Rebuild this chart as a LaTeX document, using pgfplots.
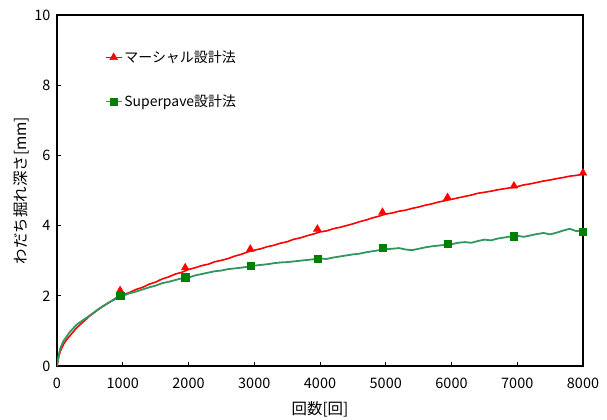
\documentclass[border=0pt]{standalone}
\usepackage{pgfplots}
\pgfplotsset{compat=1.18}
\usepackage{fontspec}
\setmainfont{Noto Sans CJK JP}
\definecolor{lgreen}{RGB}{50,150,95}
\definecolor{mgreen}{RGB}{0,128,0}
\begin{document}
\begin{tikzpicture}[font=\fontsize{14.5}{16}\selectfont]
\begin{axis}[
  scale only axis, width=526bp, height=351bp,
  xmin=0, xmax=8000, ymin=0, ymax=10,
  xtick={0,1000,...,8000}, ytick={0,2,...,10},
  tick align=inside, xtick pos=bottom, ytick pos=left,
  major tick length=4bp,
  axis line style={line width=1.5bp},
  tick style={line width=1bp, black},
  scaled x ticks=false,
  /pgf/number format/assume math mode=true,
  /pgf/number format/set thousands separator={},
  xticklabel style={yshift=-8bp},
  yticklabel style={xshift=-3bp},
  xlabel={回数[回]}, ylabel={わだち掘れ深さ[mm]},
  xlabel style={yshift=-6bp, font=\fontsize{15.5}{17}\selectfont},
  ylabel style={yshift=-2bp, font=\fontsize{15.5}{17}\selectfont},
  legend style={draw=none, fill=none, at={(0.085,0.91)}, anchor=north west, row sep=27bp, font=\fontsize{14}{16}\selectfont},
  legend cell align=left,
]
\addplot[red, line width=1.6bp, forget plot] coordinates {
(0,0)(25,0.25)(50,0.42)(100,0.62)(150,0.76)(200,0.87)(300,1.09)(400,1.26)(500,1.43)(600,1.57)(700,1.71)(800,1.82)(900,1.94)(1000,2.03)(1100,2.09)(1200,2.18)(1300,2.24)(1400,2.33)(1500,2.39)(1600,2.48)(1700,2.54)(1800,2.62)(1900,2.67)(2000,2.75)(2100,2.80)(2200,2.86)(2300,2.90)(2400,2.97)(2500,3.01)(2600,3.06)(2700,3.13)(2800,3.18)(2900,3.25)(3000,3.30)(3100,3.34)(3200,3.40)(3300,3.44)(3400,3.50)(3500,3.54)(3600,3.61)(3700,3.65)(3800,3.71)(3900,3.76)(4000,3.82)(4100,3.85)(4200,3.91)(4300,3.95)(4400,4.00)(4500,4.05)(4600,4.11)(4700,4.16)(4800,4.22)(4900,4.27)(5000,4.33)(5100,4.36)(5200,4.41)(5300,4.44)(5400,4.49)(5500,4.53)(5600,4.58)(5700,4.62)(5800,4.67)(5900,4.71)(6000,4.75)(6100,4.79)(6200,4.83)(6300,4.87)(6400,4.92)(6500,4.95)(6600,4.98)(6700,5.02)(6800,5.05)(6900,5.08)(7000,5.11)(7100,5.16)(7200,5.19)(7300,5.23)(7400,5.27)(7500,5.30)(7600,5.34)(7700,5.37)(7800,5.41)(7900,5.43)(8000,5.47)
};
\addplot[lgreen, line width=1.8bp, forget plot] coordinates {
(0,0)(25,0.3)(50,0.5)(100,0.72)(150,0.85)(200,0.98)(250,1.08)(300,1.18)(350,1.25)(400,1.31)(500,1.44)(600,1.58)(700,1.70)(800,1.82)(900,1.92)(1000,2.00)(1100,2.07)(1200,2.12)(1300,2.18)(1400,2.24)(1500,2.29)(1600,2.36)(1700,2.40)(1800,2.45)(1900,2.50)(2000,2.52)(2100,2.58)(2200,2.62)(2300,2.66)(2400,2.70)(2500,2.72)(2600,2.76)(2700,2.78)(2800,2.80)(2900,2.83)(3000,2.86)(3100,2.88)(3200,2.90)(3300,2.93)(3400,2.95)(3500,2.96)(3600,2.98)(3700,3.00)(3800,3.02)(3900,3.04)(4000,3.06)(4100,3.05)(4200,3.09)(4300,3.12)(4400,3.15)(4500,3.18)(4600,3.20)(4700,3.24)(4800,3.27)(4900,3.30)(5000,3.33)(5100,3.34)(5200,3.36)(5300,3.32)(5400,3.30)(5500,3.34)(5600,3.38)(5700,3.41)(5800,3.43)(5900,3.45)(6000,3.47)(6100,3.51)(6200,3.53)(6300,3.51)(6400,3.56)(6500,3.60)(6600,3.58)(6700,3.63)(6800,3.66)(6900,3.69)(7000,3.71)(7100,3.68)(7200,3.72)(7300,3.76)(7400,3.79)(7500,3.75)(7600,3.80)(7700,3.86)(7800,3.91)(7900,3.84)(8000,3.88)
};
\addplot[red, only marks, mark=triangle*, mark size=4.5bp,
  legend image code/.code={\draw[red,line width=1.5bp] (0bp,0bp)--(16bp,0bp); \fill[red] (8bp,0bp) ++(90:4.5bp) -- ++(-120:7.8bp) -- ++(0:7.8bp) -- cycle;}]
  coordinates {(960,2.15)(1950,2.80)(2940,3.33)(3960,3.90)(4950,4.38)(5940,4.80)(6950,5.13)(8000,5.50)};
\addlegendentry{マーシャル設計法}
\addplot[mgreen, only marks, mark=square*, mark size=3.6bp,
  legend image code/.code={\draw[lgreen,line width=1.5bp] (0bp,0bp)--(16bp,0bp); \fill[mgreen] (4.4bp,-3.6bp) rectangle (11.6bp,3.6bp);}]
  coordinates {(960,2.00)(1950,2.53)(2940,2.85)(3960,3.05)(4950,3.36)(5940,3.48)(6950,3.70)(8000,3.83)};
\addlegendentry{Superpave設計法}
\end{axis}
\useasboundingbox ([xshift=-57bp,yshift=-50bp]current axis.south west) rectangle ([xshift=24bp,yshift=15bp]current axis.north east);
\end{tikzpicture}
\end{document}
